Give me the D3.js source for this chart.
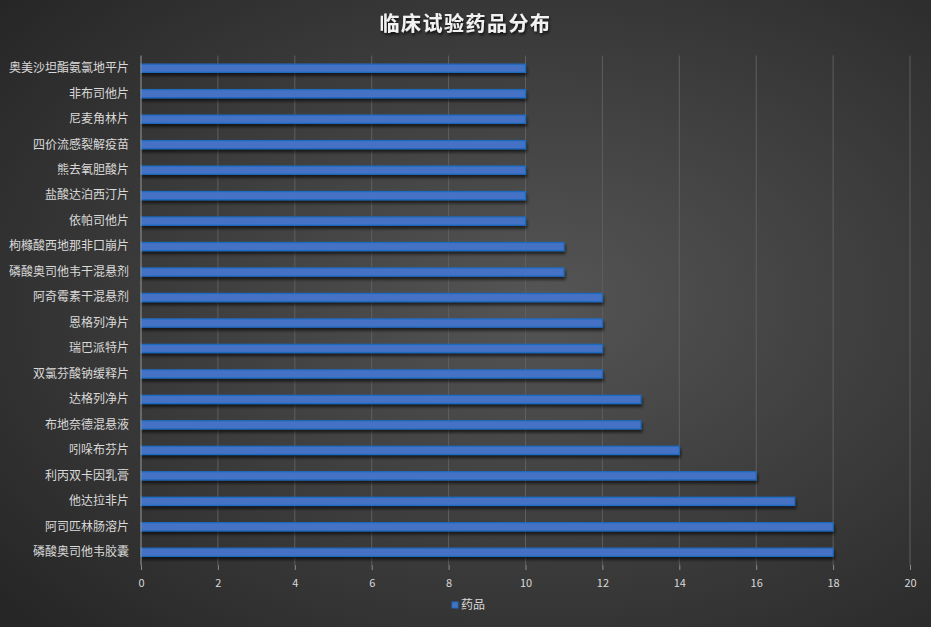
<!DOCTYPE html>
<html><head><meta charset="utf-8">
<script src="https://cdn.jsdelivr.net/npm/d3@7"></script>
<style>html,body{margin:0;padding:0;background:#333;}svg{display:block;}</style>
</head><body>
<script>
const categories = ["奥美沙坦酯氨氯地平片","非布司他片","尼麦角林片","四价流感裂解疫苗","熊去氧胆酸片","盐酸达泊西汀片","依帕司他片","枸橼酸西地那非口崩片","磷酸奥司他韦干混悬剂","阿奇霉素干混悬剂","恩格列净片","瑞巴派特片","双氯芬酸钠缓释片","达格列净片","布地奈德混悬液","吲哚布芬片","利丙双卡因乳膏","他达拉非片","阿司匹林肠溶片","磷酸奥司他韦胶囊"];
const values = [10,10,10,10,10,10,10,11,11,12,12,12,12,13,13,14,16,17,18,18];
const xTicks = [0,2,4,6,8,10,12,14,16,18,20];
const seriesName = "药品";
const title = "临床试验药品分布";

const W = 931, H = 627;
const font = "'Noto Sans CJK SC','Microsoft YaHei',sans-serif";
const svg = d3.select("body").append("svg").attr("width", W).attr("height", H);
const defs = svg.append("defs");
const rg = defs.append("radialGradient").attr("id","bg").attr("cx","58%").attr("cy","48%").attr("r","75%");
rg.append("stop").attr("offset","0%").attr("stop-color","#555555");
rg.append("stop").attr("offset","100%").attr("stop-color","#262626");
const f = defs.append("filter").attr("id","sh").attr("x","-5%").attr("y","-50%").attr("width","110%").attr("height","250%");
f.append("feDropShadow").attr("dx",1).attr("dy",3).attr("stdDeviation",1.5).attr("flood-color","#000").attr("flood-opacity",0.6);
const tf = defs.append("filter").attr("id","tsh").attr("x","-10%").attr("y","-30%").attr("width","120%").attr("height","180%");
tf.append("feDropShadow").attr("dx",1).attr("dy",2).attr("stdDeviation",1.5).attr("flood-color","#000").attr("flood-opacity",0.8);

svg.append("rect").attr("width",W).attr("height",H).attr("fill","url(#bg)");

const m = {left:141, right:910, top:55.5, bottom:565};
const x = d3.scaleLinear().domain([0,20]).range([m.left, m.right]);
const y = d3.scaleBand().domain(categories).range([m.top, m.bottom]).paddingInner(0.68).paddingOuter(0.34);

// gridlines
svg.append("g").selectAll("line").data(xTicks.filter(d=>d>0)).join("line")
  .attr("x1",d=>x(d)).attr("x2",d=>x(d)).attr("y1",m.top).attr("y2",m.bottom)
  .attr("stroke","#5f5f5f").attr("stroke-width",1);

// x axis ticks labels
const xa = svg.append("g").attr("transform",`translate(0,${m.bottom})`)
  .call(d3.axisBottom(x).tickValues(xTicks).tickSize(5).tickPadding(9));
xa.select(".domain").remove();
xa.selectAll("line").attr("stroke","#8a8a8a");
xa.selectAll("text").attr("fill","#d9d9d9").attr("font-size",11).attr("font-family",font);

// bars
svg.append("g").selectAll("rect").data(categories).join("rect")
  .attr("x",x(0)).attr("y",d=>y(d)).attr("height",y.bandwidth())
  .attr("width",(d,i)=>x(values[i])-x(0))
  .attr("fill","#4472c4").attr("stroke","#1f6bc0").attr("stroke-width",1.3)
  .attr("filter","url(#sh)");

// y axis
const ya = svg.append("g").attr("transform",`translate(${m.left},0)`)
  .call(d3.axisLeft(y).tickSize(0).tickPadding(12));
ya.select(".domain").attr("stroke","#9a9a9a").attr("d",`M0,${m.top}V${m.bottom}`);
ya.selectAll("text").attr("fill","#d9d9d9").attr("font-size",12).attr("font-family",font);

// title
svg.append("text").attr("x",W/2).attr("y",31).attr("text-anchor","middle")
  .attr("fill","#f2f2f2").attr("font-size",20).attr("font-weight","bold")
  .attr("font-family",font).attr("letter-spacing",1.5).attr("filter","url(#tsh)").text(title);

// legend
const lg = svg.append("g").attr("transform","translate(452,602)");
lg.append("rect").attr("x",0).attr("y",0).attr("width",6).attr("height",6).attr("fill","#4472c4").attr("stroke","#1f6bc0");
lg.append("text").attr("x",9).attr("y",7).attr("fill","#d9d9d9").attr("font-size",12).attr("font-family",font).text(seriesName);
</script>
</body></html>
